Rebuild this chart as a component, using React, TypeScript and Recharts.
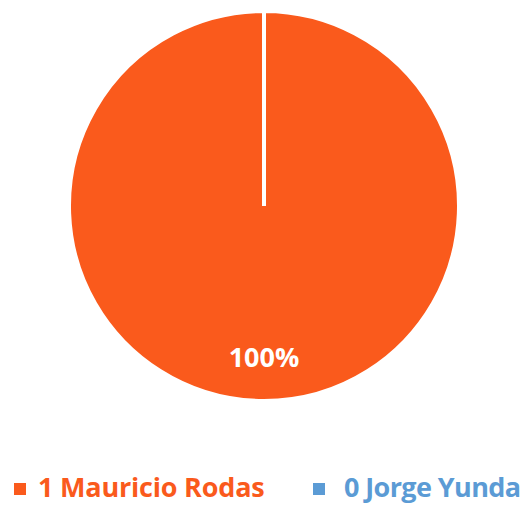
import { PieChart, Pie, Cell, Legend } from "recharts";

const candidates = ["1 Mauricio Rodas", "0 Jorge Yunda"];
const votes = [1, 0];
const colors = ["#FA5A1C", "#5B9BD5"];

const data = candidates.map((name, i) => ({ name, value: votes[i] }));
const total = votes.reduce((a, b) => a + b, 0);

const RADIAN = Math.PI / 180;

const renderLabel = (props: any) => {
  const { cx, cy, midAngle, outerRadius, value } = props;
  if (!value) return null;
  const r = outerRadius * 0.77;
  const x = cx + r * Math.cos(-midAngle * RADIAN);
  const y = cy + r * Math.sin(-midAngle * RADIAN);
  return (
    <text
      x={x}
      y={y}
      fill="#fff"
      textAnchor="middle"
      dominantBaseline="central"
      fontFamily="'Open Sans', sans-serif"
      fontWeight={700}
      fontSize={27}
    >
      {`${Math.round((value / total) * 100)}%`}
    </text>
  );
};

// legend item layout: square x, text x
const legendPos = [
  { sq: 14, tx: 38, spacing: -0.2 },
  { sq: 313, tx: 344, spacing: -0.6 },
];

const renderLegend = () => (
  <div style={{ position: "relative", width: 531, height: 34, fontFamily: "'Open Sans', sans-serif", fontWeight: 700, fontSize: 27 }}>
    {data.map((d, i) => (
      <div key={d.name}>
        <span style={{ position: "absolute", left: legendPos[i].sq, top: 13, width: 12, height: 12, background: colors[i] }} />
        <span style={{ position: "absolute", left: legendPos[i].tx, top: 0, lineHeight: "34px", color: colors[i], whiteSpace: "nowrap", letterSpacing: legendPos[i].spacing }}>
          {d.name}
        </span>
      </div>
    ))}
  </div>
);

export default function App() {
  return (
    <div style={{ position: "absolute", left: 0, top: 0, width: 531, height: 505, background: "#fff" }}>
      <PieChart width={531} height={505} margin={{ top: 0, right: 0, bottom: 0, left: 0 }}>
        <Pie
          data={data}
          dataKey="value"
          nameKey="name"
          cx={264}
          cy={206}
          outerRadius={195}
          startAngle={90}
          endAngle={-270}
          stroke="#fff"
          strokeWidth={4}
          label={renderLabel}
          labelLine={false}
          isAnimationActive={false}
        >
          {data.map((d, i) => (
            <Cell key={d.name} fill={colors[i]} />
          ))}
        </Pie>
        <Legend
          content={renderLegend}
          wrapperStyle={{ position: "absolute", left: 0, top: 470, width: 531, height: 34 }}
        />
      </PieChart>
    </div>
  );
}
